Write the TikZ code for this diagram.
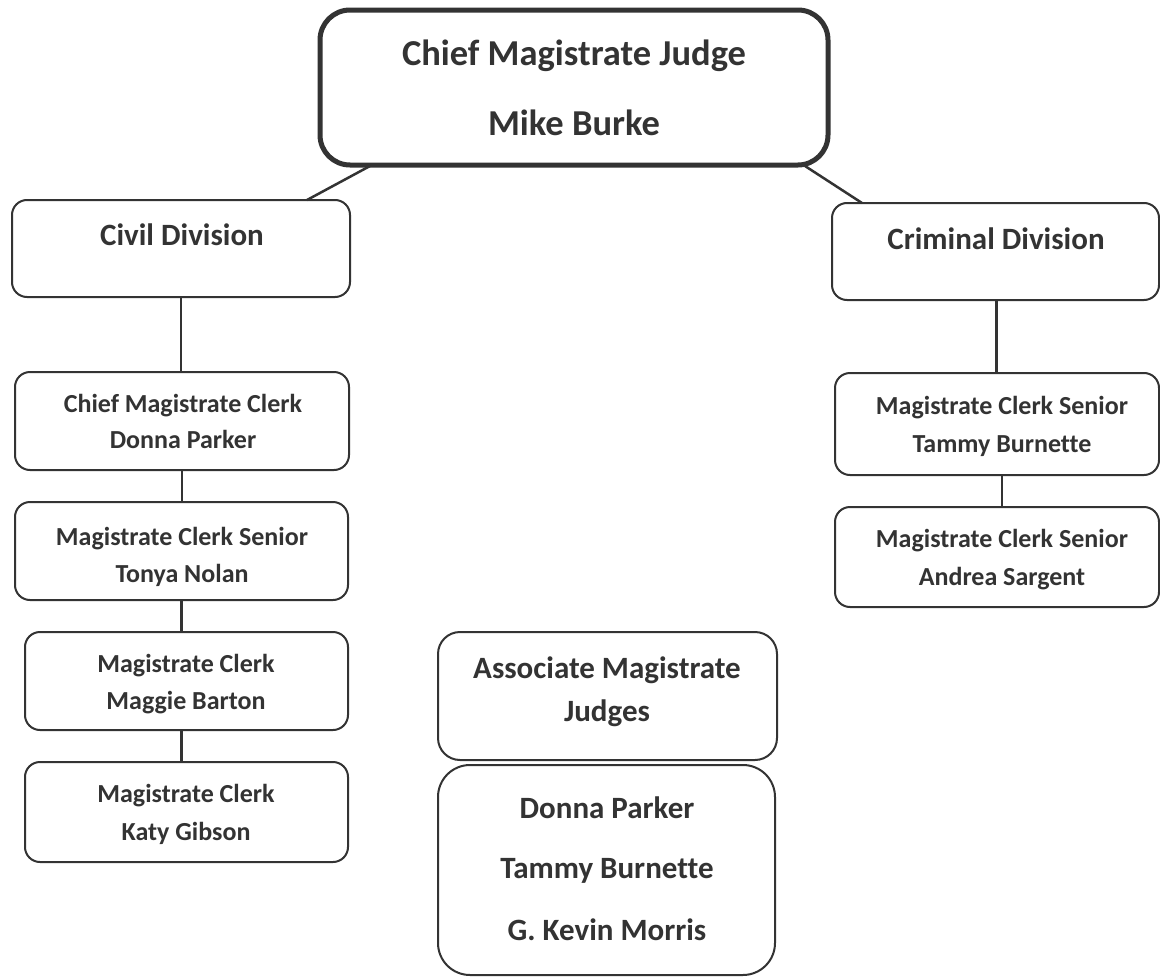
\documentclass[tikz,border=0pt]{standalone}
\usepackage{fontspec}
\setmainfont{Carlito}[Ligatures=NoCommon]
\usetikzlibrary{calc}
\definecolor{ink}{HTML}{333333}
\newcommand\fbig{\fontsize{36.5}{40}\selectfont\bfseries}
\newcommand\fmid{\fontsize{31}{36}\selectfont\bfseries}
\newcommand\fsmall{\fontsize{26}{30}\selectfont\bfseries}
\tikzset{
  box/.style={draw=ink, line width=2pt, rounded corners=15pt, fill=white, inner sep=0pt, outer sep=0pt, anchor=north west},
  bigbox/.style={box, line width=5pt, rounded corners=30pt},
  conn/.style={draw=ink, line width=2.5pt},
  lab/.style={text=ink, anchor=base, inner sep=0pt},
}
\begin{document}
\begin{tikzpicture}[x=1pt,y=-1pt]
\useasboundingbox[fill=white] (0,0) rectangle (1160,977);

% boxes
\node[bigbox, minimum width=508pt, minimum height=155pt] (chief) at (320,10) {};
\node[box, minimum width=338pt, minimum height=97pt] (civil) at (12,200) {};
\node[box, minimum width=327pt, minimum height=97pt] (criminal) at (832,203) {};
\node[box, minimum width=334pt, minimum height=98pt] (cclerk) at (15,372) {};
\node[box, minimum width=333pt, minimum height=98pt] (tonya) at (15,502) {};
\node[box, minimum width=323pt, minimum height=98pt] (maggie) at (25,632) {};
\node[box, minimum width=323pt, minimum height=100pt] (katy) at (25,762) {};
\node[box, minimum width=324pt, minimum height=102pt] (tammy) at (835,373) {};
\node[box, minimum width=324pt, minimum height=100pt] (andrea) at (835,507) {};
\node[box, minimum width=339pt, minimum height=128pt, rounded corners=22pt] (assoc) at (438,632) {};
\node[box, minimum width=337pt, minimum height=210pt, rounded corners=32pt] (names) at (438,765) {};

% connectors
\draw[conn] ($(chief.south west)+(50,1)$) -- ($(civil.north west)+(295,0)$);
\draw[conn] ($(chief.south east)+(-23,1)$) -- ($(criminal.north west)+(30,0)$);
\draw[conn] (civil.south) -- (civil.south |- cclerk.north);
\draw[conn] (cclerk.south) -- (cclerk.south |- tonya.north);
\draw[conn] (tonya.south) -- (tonya.south |- maggie.north);
\draw[conn] (tonya.south |- maggie.south) -- (tonya.south |- katy.north);
\draw[conn] ($(criminal.south)+(1,0)$) -- ($(criminal.south |- tammy.north)+(1,0)$);
\draw[conn] ($(tammy.south)+(5,0)$) -- ($(tammy.south |- andrea.north)+(5,0)$);

% texts
\node[lab, font=\fbig] (chiefA) at (574,65) {Chief Magistrate Judge};
\node[lab, font=\fbig] (chiefB) at (574,135) {Mike Burke};
\node[lab, font=\fmid] (civilA) at (182,245) {Civil Division};
\node[lab, font=\fmid] (crimA) at (996,249) {Criminal Division};
\node[lab, font=\fsmall] (cclerkA) at (183,412) {Chief Magistrate Clerk};
\node[lab, font=\fsmall] (cclerkB) at (183,448) {Donna Parker};
\node[lab, font=\fsmall] (tonyaA) at (182,545) {Magistrate Clerk Senior};
\node[lab, font=\fsmall] (tonyaB) at (182,582) {Tonya Nolan};
\node[lab, font=\fsmall] (maggieA) at (186,672) {Magistrate Clerk};
\node[lab, font=\fsmall] (maggieB) at (186,709) {Maggie Barton};
\node[lab, font=\fsmall] (katyA) at (186,802) {Magistrate Clerk};
\node[lab, font=\fsmall] (katyB) at (186,840) {Katy Gibson};
\node[lab, font=\fsmall] (tammyA) at (1002,414) {Magistrate Clerk Senior};
\node[lab, font=\fsmall] (tammyB) at (1002,452) {Tammy Burnette};
\node[lab, font=\fsmall] (andreaA) at (1002,547) {Magistrate Clerk Senior};
\node[lab, font=\fsmall] (andreaB) at (1002,585) {Andrea Sargent};
\node[lab, font=\fmid] (assocA) at (607,678) {Associate Magistrate};
\node[lab, font=\fmid] (assocB) at (607,721) {Judges};
\node[lab, font=\fmid] (namesA) at (607,818) {Donna Parker};
\node[lab, font=\fmid] (namesB) at (607,878) {Tammy Burnette};
\node[lab, font=\fmid] (namesC) at (607,940) {G. Kevin Morris};
\end{tikzpicture}
\end{document}
